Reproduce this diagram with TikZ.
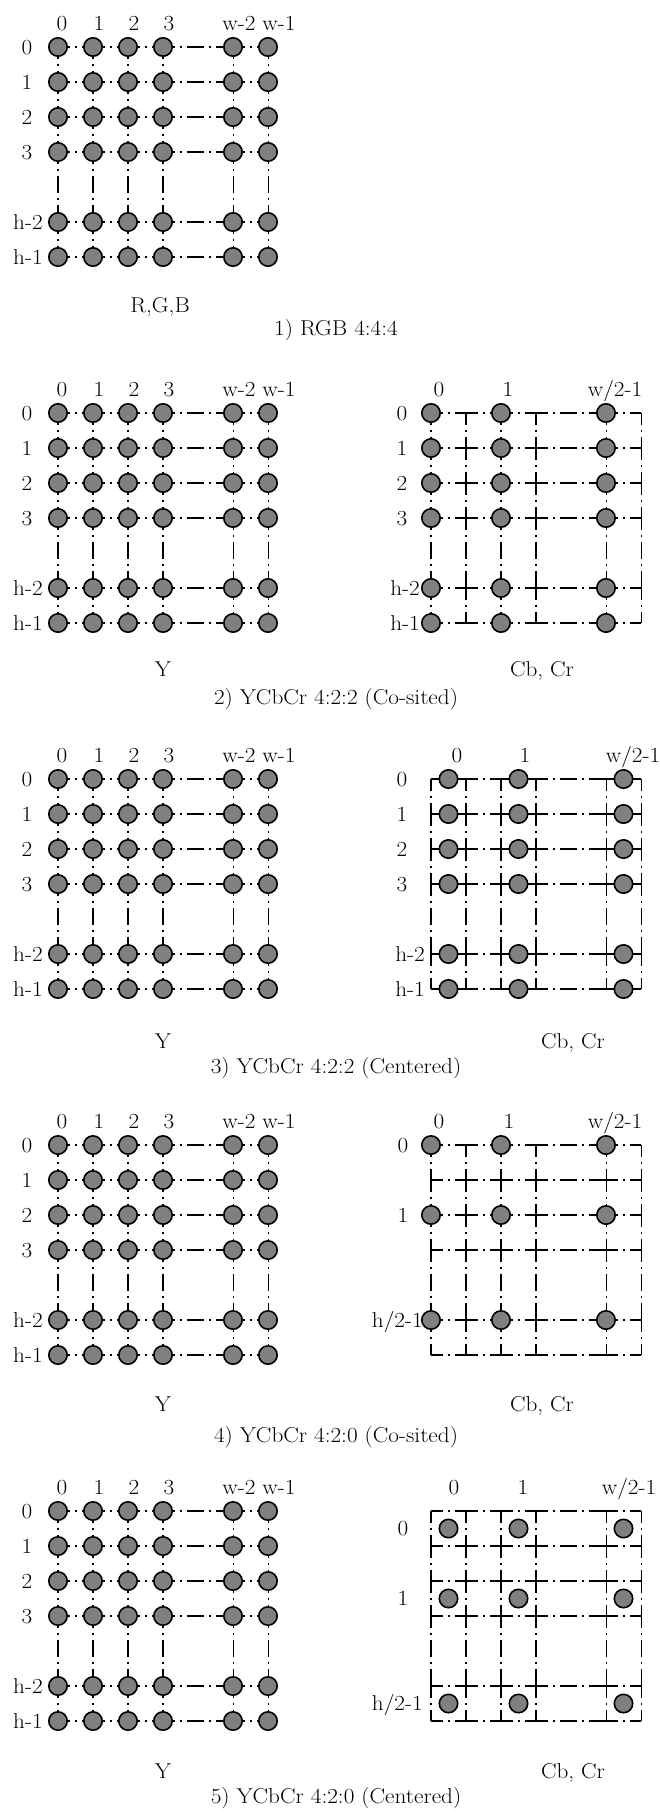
\documentclass[tikz,border=0pt]{standalone}
\usetikzlibrary{calc}
\definecolor{dotgray}{RGB}{128,128,128}
\tikzset{
  lbl/.style={font=\fontsize{21.5}{26}\selectfont, inner sep=0pt, xscale=1.08},
  hseg/.style={line width=2pt, dash pattern=on 17pt off 5pt on 2pt off 5pt, dash phase=5.5pt},
  vthick/.style={hseg, line width=2.6pt},
  vthin/.style={hseg, line width=1pt},
  sample/.style={circle, draw=black, fill=dotgray, line width=1.6pt, minimum size=18.4pt, inner sep=0pt},
}
% grid of coordinates and dash-dot segments: #1 prefix, #2 x0, #3 y0
\newcommand\mygrid[3]{%
  \foreach \i in {0,1,2,3,5,6}{\foreach \j in {0,1,2,3,5,6}{%
    \coordinate (#1-\i-\j) at ({#2+35*\i},{#3+35*\j});}}
  \foreach \a/\b in {0/1,1/2,2/3,3/5,5/6}{%
    \foreach \j in {0,1,2,3,5,6}{\draw[hseg] (#1-\a-\j) -- (#1-\b-\j);}
    \foreach \i in {0,1,2,3}{\draw[vthick] (#1-\i-\a) -- (#1-\i-\b);}
    \foreach \i in {5,6}{\draw[vthin] (#1-\i-\a) -- (#1-\i-\b);}
  }%
}
% luma dots: #1 prefix
\newcommand\mylumadots[1]{%
  \foreach \i in {0,1,2,3,5,6}{\foreach \j in {0,1,2,3,5,6}{%
    \node[sample] (#1d-\i-\j) at (#1-\i-\j) {};}}%
}
% luma labels: #1 prefix, #2 y0
\newcommand\mylumalabels[2]{%
  \foreach \t/\x/\k in {0/62/0,1/99/1,2/134/2,3/169/3,w-2/239/5,w-1/279/6}{%
    \node[lbl, anchor=base] (#1c\k) at (\x,#2-17) {\t};}
  \foreach \t/\k in {0/0,1/1,2/2,3/3}{%
    \node[lbl, anchor=base] (#1r\k) at (27,#2+35*\k+7) {\t};}
  \foreach \t/\k in {h-2/5,h-1/6}{%
    \node[lbl, anchor=base east] (#1r\k) at (43,#2+35*\k+7) {\t};}%
}
\begin{document}
\begin{tikzpicture}[x=1pt,y=-1pt]
\useasboundingbox (0,0) rectangle (660,1813);
\fill[white] (0,0) rectangle (660,1813);

% ---------- Panel 1 ----------
\mygrid{L1}{58}{47}
\mylumadots{L1}
\mylumalabels{L1}{47}
\node[lbl, anchor=base] (sub1) at (160,312) {R,G,B};
\node[lbl, anchor=base] (cap1) at (336,335) {1) RGB 4:4:4};

% ---------- Panel 2 ----------
\mygrid{L2}{58}{413}
\mylumadots{L2}
\mylumalabels{L2}{413}
\mygrid{C2}{431}{413}
\foreach \i in {0,2,5}{\foreach \j in {0,1,2,3,5,6}{%
  \node[sample] (K2-\i-\j) at (C2-\i-\j) {};}}
\node[lbl, anchor=base] (C2c0) at (439,396) {0};
\node[lbl, anchor=base] (C2c1) at (508,396) {1};
\node[lbl, anchor=base] (C2c5) at (615,396) {w/2-1};
\foreach \t/\k in {0/0,1/1,2/2,3/3}{%
  \node[lbl, anchor=base] (C2r\k) at (402,413+35*\k+7) {\t};}
\foreach \t/\k in {h-2/5,h-1/6}{%
  \node[lbl, anchor=base east] (C2r\k) at (420,413+35*\k+7) {\t};}
\node[lbl, anchor=base] (sub2a) at (163,676) {Y};
\node[lbl, anchor=base] (sub2b) at (542,676) {Cb, Cr};
\node[lbl, anchor=base] (cap2) at (336,704) {2) YCbCr 4:2:2 (Co-sited)};

% ---------- Panel 3 ----------
\mygrid{L3}{58}{779}
\mylumadots{L3}
\mylumalabels{L3}{779}
\mygrid{C3}{431}{779}
\foreach \i/\k in {0/1,2/3,5/6}{\foreach \j in {0,1,2,3,5,6}{%
  \node[sample] (K3-\i-\j) at ($(C3-\i-\j)!0.5!(C3-\k-\j)$) {};}}
\node[lbl, anchor=base] (C3c0) at (457,762) {0};
\node[lbl, anchor=base] (C3c1) at (525,762) {1};
\node[lbl, anchor=base] (C3c5) at (633,762) {w/2-1};
\foreach \t/\k in {0/0,1/1,2/2,3/3}{%
  \node[lbl, anchor=base] (C3r\k) at (402,779+35*\k+7) {\t};}
\foreach \t/\k in {h-2/5,h-1/6}{%
  \node[lbl, anchor=base east] (C3r\k) at (425,779+35*\k+7) {\t};}
\node[lbl, anchor=base] (sub3a) at (163,1048) {Y};
\node[lbl, anchor=base] (sub3b) at (573,1048) {Cb, Cr};
\node[lbl, anchor=base] (cap3) at (336,1073) {3) YCbCr 4:2:2 (Centered)};

% ---------- Panel 4 ----------
\mygrid{L4}{58}{1145}
\mylumadots{L4}
\mylumalabels{L4}{1145}
\mygrid{C4}{431}{1145}
\foreach \i in {0,2,5}{\foreach \j in {0,2,5}{%
  \node[sample] (K4-\i-\j) at (C4-\i-\j) {};}}
\node[lbl, anchor=base] (C4c0) at (439,1128) {0};
\node[lbl, anchor=base] (C4c1) at (509,1128) {1};
\node[lbl, anchor=base] (C4c5) at (615,1128) {w/2-1};
\node[lbl, anchor=base] (C4r0) at (403,1152) {0};
\node[lbl, anchor=base] (C4r1) at (403,1222) {1};
\node[lbl, anchor=base east] (C4r5) at (423,1327) {h/2-1};
\node[lbl, anchor=base] (sub4a) at (163,1411) {Y};
\node[lbl, anchor=base] (sub4b) at (542,1411) {Cb, Cr};
\node[lbl, anchor=base] (cap4) at (336,1442) {4) YCbCr 4:2:0 (Co-sited)};

% ---------- Panel 5 ----------
\mygrid{L5}{58}{1511}
\mylumadots{L5}
\mylumalabels{L5}{1511}
\mygrid{C5}{431}{1511}
\foreach \i/\k in {0/1,2/3,5/6}{\foreach \j/\l in {0/1,2/3,5/6}{%
  \node[sample] (K5-\i-\j) at ($(C5-\i-\j)!0.5!(C5-\k-\l)$) {};}}
\node[lbl, anchor=base] (C5c0) at (454,1494) {0};
\node[lbl, anchor=base] (C5c1) at (523,1494) {1};
\node[lbl, anchor=base] (C5c5) at (629,1494) {w/2-1};
\node[lbl, anchor=base] (C5r0) at (403,1535.5) {0};
\node[lbl, anchor=base] (C5r1) at (403,1605.5) {1};
\node[lbl, anchor=base east] (C5r5) at (423,1710.5) {h/2-1};
\node[lbl, anchor=base] (sub5a) at (163,1778) {Y};
\node[lbl, anchor=base] (sub5b) at (573,1778) {Cb, Cr};
\node[lbl, anchor=base] (cap5) at (336,1803) {5) YCbCr 4:2:0 (Centered)};
\end{tikzpicture}
\end{document}
